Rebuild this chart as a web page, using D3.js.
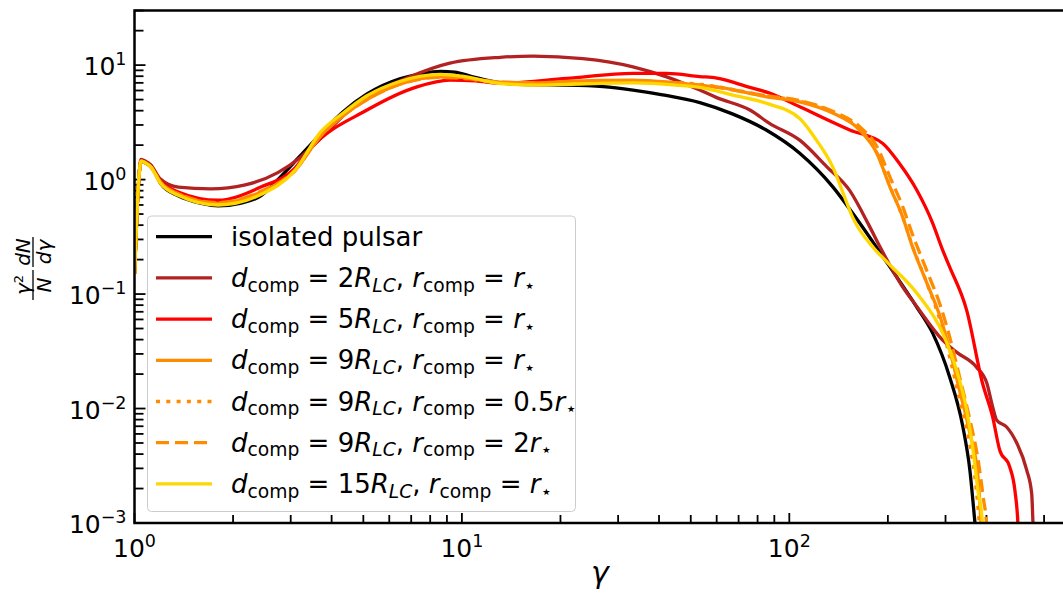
<!DOCTYPE html>
<html>
<head>
<meta charset="utf-8">
<script src="https://cdn.jsdelivr.net/npm/d3@7"></script>
<style>
  body { margin: 0; background: #fff; }
  svg { display: block; font-family: "DejaVu Sans", sans-serif; }
</style>
</head>
<body>
<svg id="chart" width="1063" height="596"></svg>
<script>
// [gamma, gamma^2 dN / N dgamma]
var isolated = [
    [1.0, 0.15], [1.02, 0.6], [1.047, 1.45], [1.08, 1.4], [1.12, 1.33], [1.2, 0.93],
    [1.36, 0.72], [1.6, 0.62], [1.8, 0.59], [2.1, 0.62], [2.43, 0.72], [2.74, 1.0],
    [3.2, 1.6], [3.7, 2.5], [4.33, 3.9], [5.13, 5.6], [6.46, 7.6], [7.5, 8.4],
    [8.6, 8.8], [9.5, 8.7], [10.8, 7.9], [13.1, 7.0], [16, 6.75], [20.9, 6.7],
    [27, 6.5], [33.3, 6.05], [41, 5.5], [53.3, 4.7], [67, 3.75], [85, 2.71],
    [107.6, 1.7], [136, 0.86], [156, 0.51], [199, 0.187], [245, 0.077], [274, 0.0456],
    [309, 0.0188], [339, 0.0069], [356, 0.0029], [369, 0.001], [380, 0.0004]
];
var comp2 = [
    [1.0, 0.15], [1.02, 0.6], [1.047, 1.5], [1.08, 1.45], [1.12, 1.35], [1.2, 1.01],
    [1.36, 0.86], [1.71, 0.83], [2.18, 0.9], [2.74, 1.15], [3.2, 1.55], [3.7, 2.3],
    [4.78, 4.6], [6.94, 7.9], [9.19, 10.4], [13.1, 11.7], [16.5, 12.0], [23.4, 11.4],
    [33.3, 9.67], [42.2, 7.9], [53.3, 6.05], [60, 5.2], [75.8, 4.05], [87, 3.1],
    [107.6, 2.21], [130, 1.3], [153, 0.8], [175, 0.4], [189, 0.26], [220, 0.12],
    [245, 0.078], [294, 0.0396], [324, 0.0311], [373, 0.023], [401, 0.0167],
    [418, 0.0103], [430, 0.0079], [461, 0.0069], [495, 0.005], [531, 0.0029],
    [550, 0.0018], [555, 0.001], [565, 0.0004]
];
var comp5 = [
    [1.0, 0.15], [1.02, 0.6], [1.047, 1.45], [1.08, 1.4], [1.12, 1.3], [1.2, 0.97],
    [1.36, 0.78], [1.8, 0.66], [2.43, 0.86], [3.09, 1.26], [3.44, 1.85], [5.13, 4.05],
    [7.29, 6.46], [9.19, 7.4], [11, 7.3], [13.1, 6.92], [20.9, 7.65], [33.3, 8.46],
    [42.2, 8.46], [53.3, 7.95], [60, 7.7], [75.8, 6.38], [87, 5.7], [107.6, 4.32],
    [153, 2.71], [193, 2.07], [217, 1.38], [245, 0.81], [274, 0.417], [294, 0.242],
    [309, 0.172], [348, 0.0724], [389, 0.0167], [418, 0.0084], [439, 0.00435],
    [471, 0.0031], [489, 0.0019], [499, 0.001], [505, 0.0004]
];
var comp9 = [
    [1.0, 0.15], [1.02, 0.6], [1.047, 1.45], [1.08, 1.4], [1.12, 1.3], [1.2, 0.95],
    [1.36, 0.75], [1.8, 0.62], [2.43, 0.78], [3.09, 1.2], [3.7, 2.4], [4.33, 3.6],
    [5.13, 5.0], [6.46, 6.8], [8.5, 7.9], [10, 7.8], [13.1, 7.1], [17, 7.0],
    [20.9, 7.2], [33.3, 7.4], [45, 7.0], [53.3, 6.69], [60, 6.46], [85.3, 5.29],
    [107.6, 4.78], [135.7, 3.81], [164, 2.71], [185, 1.7], [203, 0.86], [222, 0.47],
    [238, 0.257], [263, 0.125], [289, 0.063], [309, 0.0324], [331, 0.0145],
    [356, 0.0061], [377, 0.0025], [385, 0.001], [392, 0.0004]
];
var comp9half = [
    [1.0, 0.15], [1.02, 0.6], [1.047, 1.45], [1.08, 1.4], [1.12, 1.3], [1.2, 0.95],
    [1.36, 0.75], [1.8, 0.62], [2.43, 0.77], [3.09, 1.2], [3.7, 2.45], [4.33, 3.65],
    [5.13, 5.1], [6.46, 6.9], [8.5, 7.9], [10, 7.7], [13.1, 7.0], [17, 6.9],
    [20.9, 7.1], [33.3, 7.3], [45, 7.05], [53.3, 6.8], [85, 5.4], [107.6, 4.85],
    [135.7, 3.9], [164, 2.75], [185, 1.72], [203, 0.87], [222, 0.47], [238, 0.26],
    [263, 0.125], [289, 0.058], [309, 0.028], [331, 0.012], [356, 0.0048],
    [372, 0.002], [380, 0.001], [386, 0.0004]
];
var comp9two = [
    [1.0, 0.15], [1.02, 0.6], [1.047, 1.45], [1.08, 1.4], [1.12, 1.3], [1.2, 0.95],
    [1.36, 0.75], [1.8, 0.63], [2.43, 0.79], [3.09, 1.2], [3.7, 2.4], [4.33, 3.6],
    [5.13, 5.0], [6.46, 6.8], [8.5, 7.8], [10, 7.7], [13.1, 7.1], [17, 7.0],
    [20.9, 7.1], [33.3, 7.3], [45, 7.0], [53.3, 6.7], [85, 5.4], [107.6, 4.9],
    [135.7, 3.95], [164, 2.9], [185, 1.95], [203, 1.05], [222, 0.58], [238, 0.33],
    [263, 0.16], [289, 0.08], [309, 0.042], [331, 0.019], [356, 0.008],
    [377, 0.0036], [392, 0.0016], [400, 0.001], [405, 0.0004]
];
var comp15 = [
    [1.0, 0.15], [1.02, 0.6], [1.047, 1.45], [1.08, 1.4], [1.12, 1.3], [1.2, 0.93],
    [1.36, 0.73], [1.8, 0.6], [2.43, 0.74], [3.09, 1.2], [3.7, 2.6], [4.33, 3.8],
    [5.13, 5.4], [6.46, 7.2], [8.6, 8.3], [10, 8.0], [13.1, 6.9], [17, 6.7],
    [20.9, 6.8], [33.3, 7.0], [45, 6.7], [53.3, 6.38], [67.3, 5.47], [85.3, 4.63],
    [107.6, 3.42], [121, 2.21], [135.7, 1.29], [146, 0.762], [156, 0.47], [180, 0.257],
    [199, 0.19], [245, 0.102], [294, 0.0456], [324, 0.0217], [348, 0.0097],
    [364, 0.00435], [377, 0.0019], [389, 0.001], [395, 0.0004]
];

var seriesData = [isolated, comp2, comp5, comp9, comp9half, comp9two, comp15];
var dComp = [null, '2', '5', '9', '9', '9', '15'];
var rComp = [null, '', '', '', '0.5', '2', ''];
var colors = ['#000000', '#b22222', '#ff0000', '#ff8c00', '#ff8c00', '#ff8c00', '#ffd700'];
var dashes = [null, null, null, null, '4,6.3', '13,6', null];

var xMajor = [1, 10, 100];
var yMajor = [1e-3, 1e-2, 1e-1, 1, 10];
var xExp = ['0', '1', '2'];
var yExp = ['\u22123', '\u22122', '\u22121', '0', '1'];

var plotLeft = 134.5, plotRight = 1066, plotTop = 10.5, plotBottom = 523;
var lw = 3.3;

var svg = d3.select('#chart');
var x = d3.scaleLog().domain([1, 700]).range([plotLeft, plotRight]);
var y = d3.scaleLog().domain([1e-3, 30]).range([plotBottom, plotTop]);

function minors(majors, lo, hi) {
    var out = [];
    majors.forEach(function (m) {
        for (var k = 2; k <= 9; k++) {
            var v = m * k;
            if (v > lo && v <= hi) out.push(v);
        }
    });
    return out;
}

// ticks go in first so the curves sit on top of them
var ticks = svg.append('g').attr('stroke', '#000').attr('stroke-width', 1.8);
xMajor.forEach(function (v) {
    ticks.append('line').attr('x1', x(v)).attr('x2', x(v)).attr('y1', plotBottom).attr('y2', plotBottom - 10);
});
minors(xMajor, 1, 700).forEach(function (v) {
    ticks.append('line').attr('x1', x(v)).attr('x2', x(v)).attr('y1', plotBottom).attr('y2', plotBottom - 8);
});
yMajor.forEach(function (v) {
    ticks.append('line').attr('y1', y(v)).attr('y2', y(v)).attr('x1', plotLeft).attr('x2', plotLeft + 11);
});
minors(yMajor, 1e-3, 30).forEach(function (v) {
    ticks.append('line').attr('y1', y(v)).attr('y2', y(v)).attr('x1', plotLeft).attr('x2', plotLeft + 9);
});

svg.append('clipPath').attr('id', 'plotclip')
    .append('rect').attr('x', plotLeft).attr('y', plotTop)
    .attr('width', plotRight - plotLeft).attr('height', plotBottom - plotTop);

var line = d3.line()
    .x(function (d) { return x(d[0]); })
    .y(function (d) { return y(d[1]); })
    .curve(d3.curveMonotoneX);

var curves = svg.append('g').attr('clip-path', 'url(#plotclip)');
seriesData.forEach(function (data, i) {
    curves.append('path')
        .attr('d', line(data))
        .attr('fill', 'none')
        .attr('stroke', colors[i])
        .attr('stroke-width', lw)
        .attr('stroke-dasharray', dashes[i])
        .attr('stroke-linejoin', 'round');
});

// frame
svg.append('rect')
    .attr('x', plotLeft).attr('y', plotTop)
    .attr('width', plotRight - plotLeft).attr('height', plotBottom - plotTop)
    .attr('fill', 'none').attr('stroke', '#000').attr('stroke-width', 2.5);

// tick labels, 10 with a raised exponent
var fs = 25;
xMajor.forEach(function (v, i) {
    var t = svg.append('text')
        .attr('x', x(v)).attr('y', 557)
        .attr('text-anchor', 'middle')
        .attr('font-size', fs);
    t.append('tspan').text('10');
    t.append('tspan').attr('dy', -10).attr('font-size', fs * 0.7).text(xExp[i]);
});
yMajor.forEach(function (v, i) {
    var t = svg.append('text')
        .attr('x', plotLeft - 8).attr('y', y(v) + 10)
        .attr('text-anchor', 'end')
        .attr('font-size', fs);
    t.append('tspan').text('10');
    t.append('tspan').attr('dy', -10).attr('font-size', fs * 0.7).text(yExp[i]);
});

// small mathtext-ish helper: kinds n, i (italic), sn, si (subscript)
function mathText(t, tokens, size) {
    var shift = 0;
    tokens.forEach(function (tok) {
        var sub = tok[1].charAt(0) === 's';
        var target = sub ? size * 0.18 : 0;
        t.append('tspan')
            .attr('dy', target - shift)
            .attr('font-size', sub ? size * 0.72 : size)
            .attr('font-style', tok[1].slice(-1) === 'i' ? 'italic' : 'normal')
            .style('white-space', 'pre')
            .text(tok[0]);
        shift = target;
    });
}

function legendTokens(i) {
    if (dComp[i] === null) return [['isolated pulsar', 'n']];
    return [
        ['d', 'i'], ['comp', 'sn'], [' = ' + dComp[i], 'n'], ['R', 'i'], ['LC', 'si'],
        [', ', 'n'], ['r', 'i'], ['comp', 'sn'], [' = ' + rComp[i], 'n'], ['r', 'i'], ['\u22c6', 'sn']
    ];
}

// legend
var lg = svg.append('g');
lg.append('rect')
    .attr('x', 147.5).attr('y', 216)
    .attr('width', 428).attr('height', 295.5)
    .attr('rx', 4)
    .attr('fill', 'rgba(255,255,255,0.8)')
    .attr('stroke', '#cccccc').attr('stroke-width', 1);
seriesData.forEach(function (d, i) {
    var ry = 236.7 + i * 41.2;
    lg.append('line')
        .attr('x1', 156).attr('x2', 212)
        .attr('y1', ry).attr('y2', ry)
        .attr('stroke', colors[i])
        .attr('stroke-width', lw)
        .attr('stroke-dasharray', dashes[i]);
    var t = lg.append('text')
        .attr('x', 231).attr('y', ry + 9)
        .attr('font-size', 26);
    mathText(t, legendTokens(i), 26);
});

// axis labels
svg.append('text')
    .attr('x', 600).attr('y', 583)
    .attr('text-anchor', 'middle')
    .attr('font-size', 30)
    .attr('font-style', 'italic')
    .text('\u03b3');

var yl = svg.append('g').attr('transform', 'translate(33,269) rotate(-90)');
var fracs = [
    { cx: -16, num: ['\u03b3', '2'], den: 'N' },
    { cx: 17, num: ['dN', ''], den: 'd\u03b3' }
];
fracs.forEach(function (f) {
    var n = yl.append('text')
        .attr('x', f.cx).attr('y', -3.5)
        .attr('text-anchor', 'middle')
        .attr('font-size', 20)
        .attr('font-style', 'italic');
    n.append('tspan').text(f.num[0]);
    if (f.num[1]) n.append('tspan').attr('dy', -7).attr('font-size', 13).attr('font-style', 'normal').text(f.num[1]);
    yl.append('line')
        .attr('x1', f.cx - 15).attr('x2', f.cx + 15)
        .attr('y1', 0).attr('y2', 0)
        .attr('stroke', '#000').attr('stroke-width', 1.3);
    yl.append('text')
        .attr('x', f.cx).attr('y', 18)
        .attr('text-anchor', 'middle')
        .attr('font-size', 20)
        .attr('font-style', 'italic')
        .text(f.den);
});
</script>
</body>
</html>
